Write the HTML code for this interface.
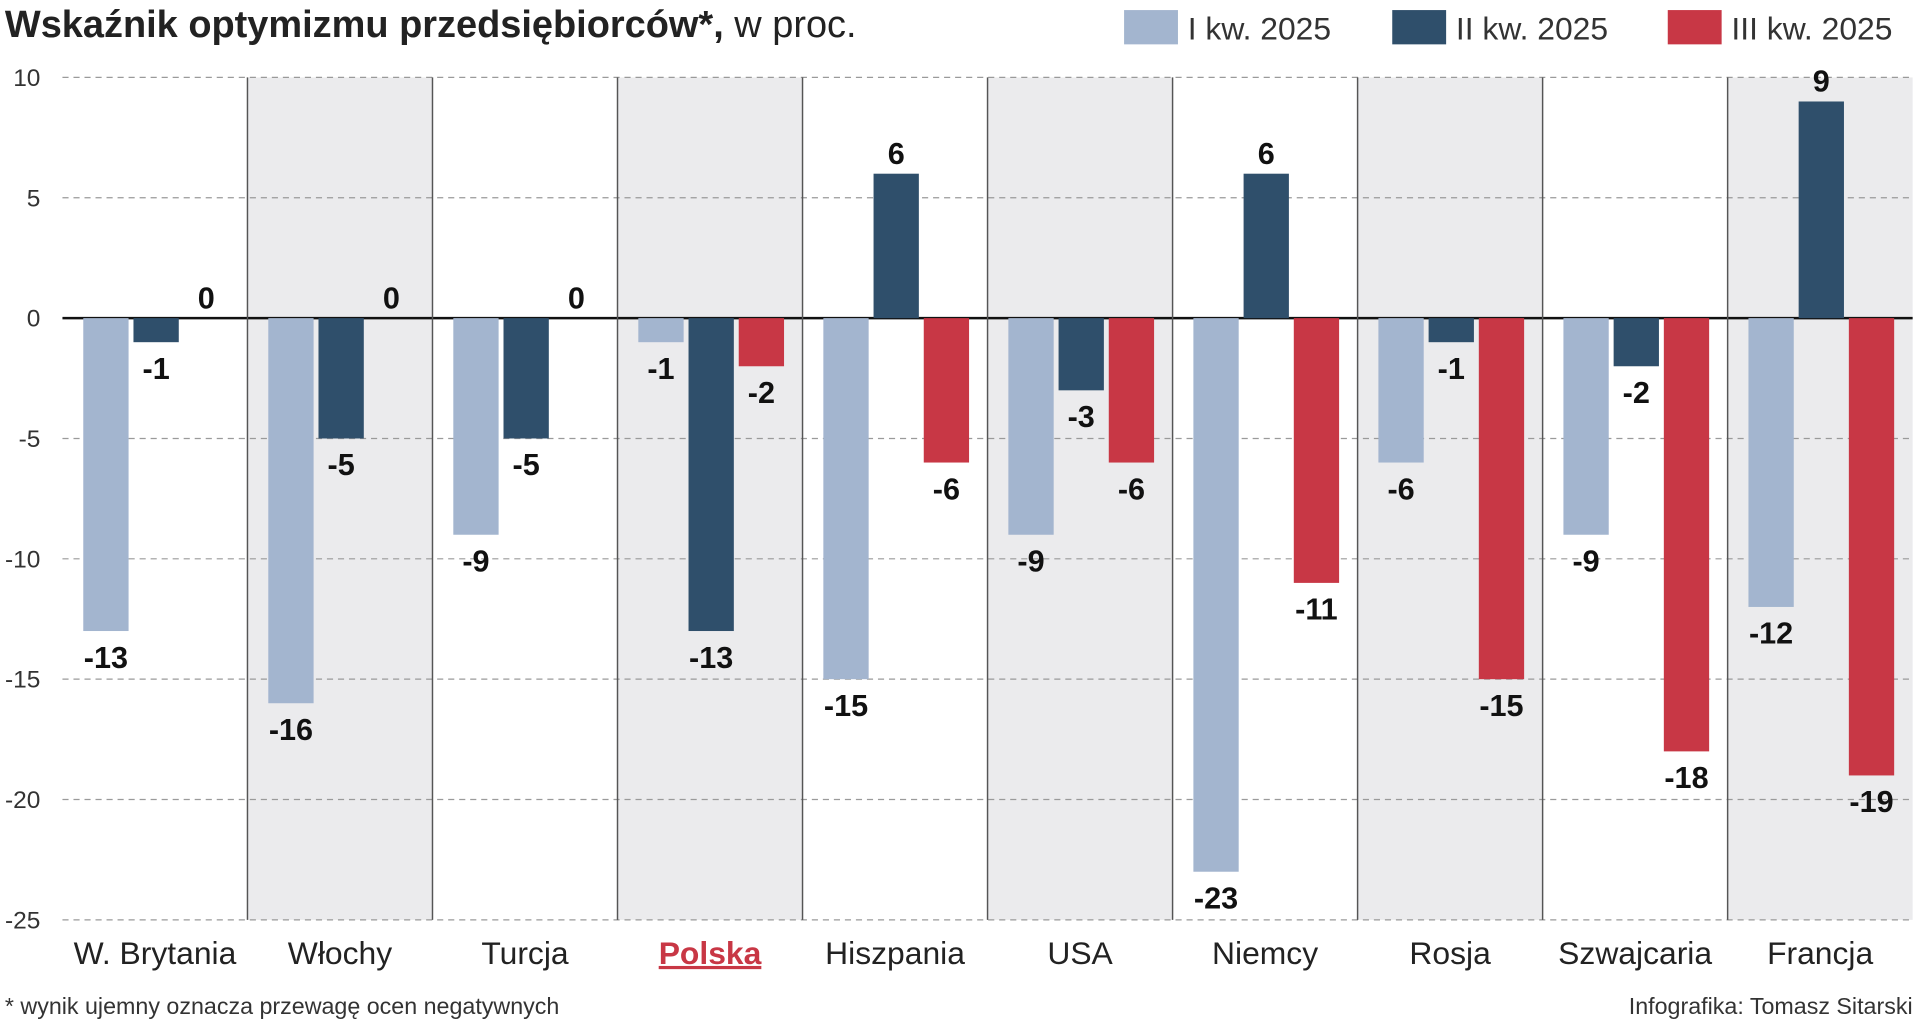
<!DOCTYPE html>
<html><head><meta charset="utf-8">
<style>
html,body{margin:0;padding:0;background:#fff;width:1920px;height:1023px;overflow:hidden}
svg{display:block}
.n{font-family:"Liberation Sans Narrow","Liberation Sans",sans-serif}
</style></head>
<body>
<svg id="chart" width="1920" height="1023" viewBox="0 0 1568 835" xmlns="http://www.w3.org/2000/svg">
<g id="bg"></g>
<g id="grid"></g>
<g id="bars"></g>
<g id="labels"></g>
<text x="4" y="30" class="n" font-size="31" fill="#222"><tspan font-weight="bold">Wskaźnik optymizmu przedsiębiorców*,</tspan> w proc.</text>
<g class="n" font-size="26" fill="#333">
<rect x="918" y="8" width="44" height="28" fill="#a3b5cf"/>
<text x="970" y="32">I kw. 2025</text>
<rect x="1137" y="8" width="44" height="28" fill="#2f4f6b"/>
<text x="1189" y="32">II kw. 2025</text>
<rect x="1362" y="8" width="44" height="28" fill="#c83745"/>
<text x="1414" y="32">III kw. 2025</text>
</g>
<text x="4" y="828" class="n" font-size="19" fill="#333">* wynik ujemny oznacza przewagę ocen negatywnych</text>
<text x="1562" y="828" text-anchor="end" class="n" font-size="19" fill="#333">Infografika: Tomasz Sitarski</text>
</svg>
<script>
const categories=["W. Brytania","Włochy","Turcja","Polska","Hiszpania","USA","Niemcy","Rosja","Szwajcaria","Francja"];
const q1=[-13,-16,-9,-1,-15,-9,-23,-6,-9,-12];
const q2=[-1,-5,-5,-13,6,-3,6,-1,-2,9];
const q3=[0,0,0,-2,-6,-6,-11,-15,-18,-19];
const yTicks=[10,5,0,-5,-10,-15,-20,-25];
const NS="http://www.w3.org/2000/svg";
const pLeft=51,pRight=1562,pTop=63,pBottom=751,yMax=10,yMin=-25;
const cw=(pRight-pLeft)/categories.length;
function yS(v){return pTop+(yMax-v)/(yMax-yMin)*(pBottom-pTop);}
function xS(i){return pLeft+i*cw;}
function mk(tag,attrs,parent){const e=document.createElementNS(NS,tag);for(const k in attrs)e.setAttribute(k,attrs[k]);document.getElementById(parent).appendChild(e);return e;}
categories.forEach((c,i)=>{
  if(i%2===1){const r=mk('rect',{x:xS(i),y:pTop,width:cw,height:pBottom-pTop,fill:'#ebebed'},'bg');
    
    }
});
yTicks.forEach(t=>{
  const a={x1:pLeft,x2:pRight,y1:yS(t),y2:yS(t),stroke:t===0?'#111':'#9a9a9a','stroke-width':t===0?2:1};
  if(t!==0)a['stroke-dasharray']='5,4';
  const l=mk('line',a,'grid');
  
  
  const tx=mk('text',{x:33,y:yS(t)+7,'text-anchor':'end','font-size':20,fill:'#333',class:'n'},'grid');
  tx.textContent=t;
  
  
});
for(let i=1;i<categories.length;i++){
  const d=mk('line',{x1:xS(i),x2:xS(i),y1:pTop,y2:pBottom,stroke:'#555','stroke-width':1.2},'grid');
  
  
}
const series=[q1,q2,q3],colors=['#a3b5cf','#2f4f6b','#c83745'],sn=['q1','q2','q3'];
const bw=37,gap=4,off=17;
categories.forEach((c,i)=>{
  series.forEach((s,k)=>{
    const v=s[i],bx=xS(i)+off+k*(bw+gap);
    const y0=yS(0),yv=yS(v);
    if(v!==0){const r=mk('rect',{x:bx,y:Math.min(y0,yv),width:bw,height:Math.abs(yv-y0),fill:colors[k]},'bars');
      
      }
    const ly=v>0?yv-8:(v===0?y0-8:yv+30);
    const t=mk('text',{x:bx+bw/2,y:ly,'text-anchor':'middle','font-size':25,'font-weight':'bold',fill:'#111',class:'n'},'labels');
    t.textContent=v;
    
    
  });
  const isPl=c==='Polska';
  const t=mk('text',{x:xS(i)+cw/2,y:787,'text-anchor':'middle','font-size':26,fill:isPl?'#c83745':'#222','font-weight':isPl?'bold':'normal','text-decoration':isPl?'underline':'none',class:'n'},'labels');
  t.textContent=c;
  
  
});
</script>
</body></html>
